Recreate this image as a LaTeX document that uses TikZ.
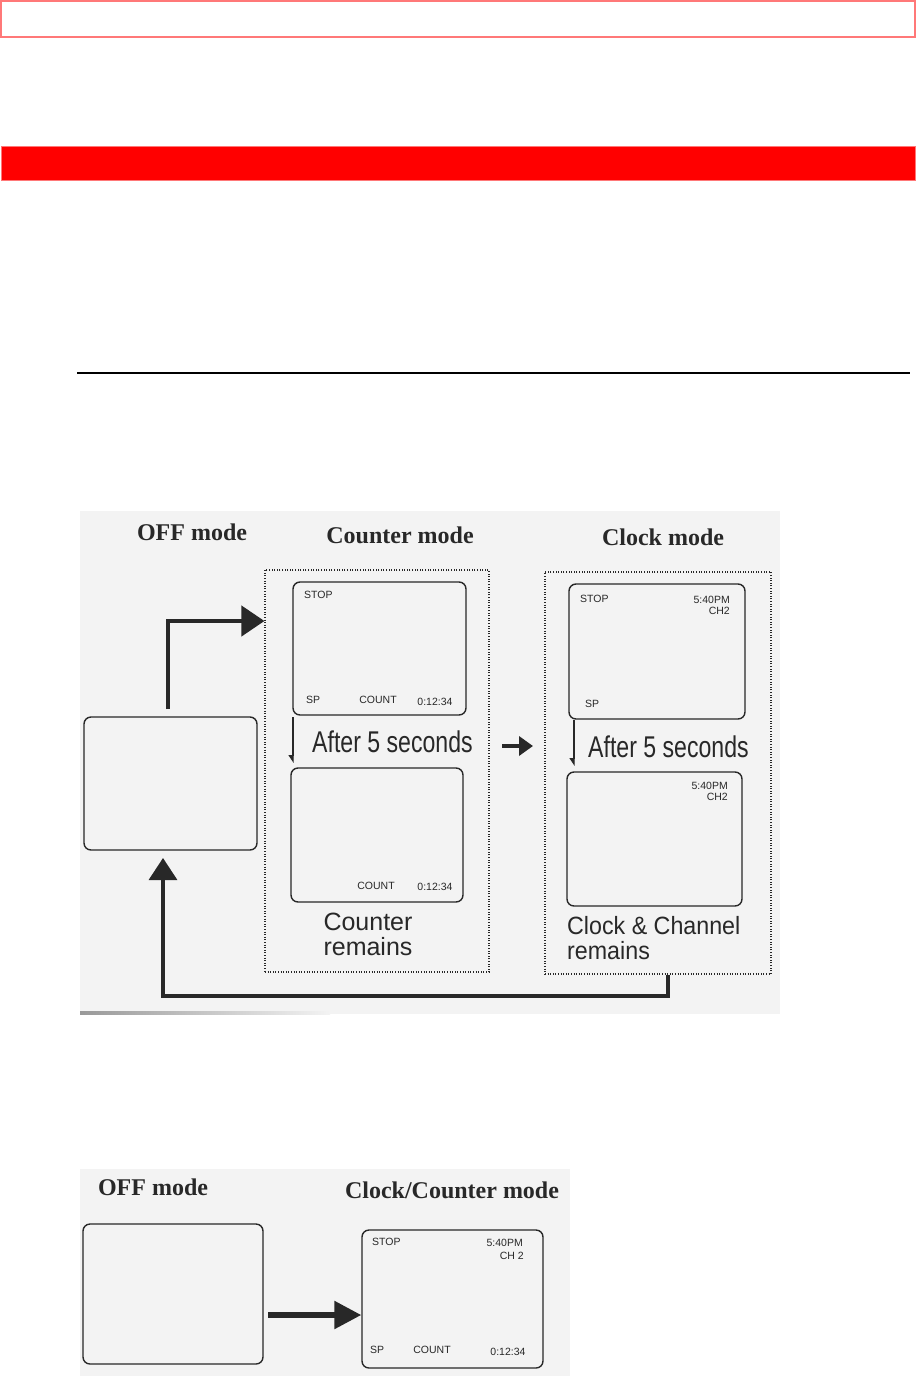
\documentclass[tikz,border=0pt]{standalone}
\usepackage{fontspec}
\setmainfont{Liberation Serif}
\setsansfont{Liberation Sans}
\newfontfamily\narrowsans[FakeStretch=0.77]{Liberation Sans}
\newfontfamily\semisans[FakeStretch=0.93]{Liberation Sans}
\usetikzlibrary{arrows.meta}
\definecolor{pinkline}{RGB}{255,120,120}
\definecolor{barred}{RGB}{255,0,0}
\definecolor{scanbg}{RGB}{243,243,243}
\definecolor{ink}{RGB}{40,40,40}
\tikzset{
  screen/.style={draw=ink, line width=1.4pt, rounded corners=7pt, inner sep=0pt},
  dotbox/.style={draw=ink, line width=1.1pt, dash pattern=on 1pt off 1.6pt, inner sep=0pt},
  tiny/.style={inner sep=0pt, text=ink, font=\sffamily\fontsize{10.5}{11}\selectfont},
  title/.style={inner sep=0pt, text=ink, font=\bfseries\fontsize{24}{28}\selectfont, anchor=base},
  after/.style={inner sep=0pt, text=ink, font=\narrowsans\fontsize{30}{32}\selectfont, anchor=base west},
  remark/.style={inner sep=0pt, text=ink, font=\sffamily\fontsize{25}{25}\selectfont},
  flowarrow/.style={draw=ink, line width=4.2pt, -{Triangle[length=23pt,width=30pt]}},
  smallarrow/.style={draw=ink, line width=1.1pt, -{Triangle[length=7pt,width=9pt,harpoon,swap]}}
}
\begin{document}
\begin{tikzpicture}[x=1pt,y=-1pt]
\useasboundingbox (0,0) rectangle (917,1376);
% page decorations
\draw[pinkline, line width=2pt] (1,1) rectangle (915,37);
\draw[pinkline, line width=1pt, fill=barred] (1,146) rectangle (915,180);
\draw[black, line width=2pt] (77,373) -- (910,373);
% scanned backgrounds
\fill[scanbg] (80,511) rectangle (780,1014);
\shade[left color=gray!80, right color=scanbg] (80,1011.5) rectangle (330,1014);
\fill[scanbg] (80,1169) rectangle (570,1376);

% ---------- upper diagram ----------
\node[title] (toff) at (192,540) {OFF mode};
\node[title] (tcounter) at (400,543) {Counter mode};
\node[title] (tclock) at (663,545) {Clock mode};

\node[screen, minimum width=173pt, minimum height=133pt] (off1) at (170.5,783.5) {};

\node[dotbox, minimum width=224pt, minimum height=402pt] (cdot) at (377,771) {};
\node[dotbox, minimum width=226pt, minimum height=402pt] (kdot) at (658,773) {};

% counter screens
\node[screen, minimum width=173pt, minimum height=133pt] (cs1) at (379.5,648.5) {};
\node[tiny, anchor=west] (cs1stop) at (304,595) {STOP};
\node[tiny, anchor=west] (cs1sp) at (306,700) {SP};
\node[tiny] (cs1count) at (378,700) {COUNT};
\node[tiny] (cs1time) at (435,702) {0:12:34};

\node[screen, minimum width=172pt, minimum height=134pt] (cs2) at (377,835) {};
\node[tiny] (cs2count) at (376,886) {COUNT};
\node[tiny] (cs2time) at (435,887) {0:12:34};

\node[after] (cafter) at (312,752) {After 5 seconds};
\node[remark, align=center, anchor=base] (crem) at (368,955) {Counter\\remains};

% clock screens
\node[screen, minimum width=176pt, minimum height=135pt] (ks1) at (657,651.5) {};
\node[tiny, anchor=west] (ks1stop) at (580,599) {STOP};
\node[tiny, anchor=east] (ks1clock) at (730,600) {5:40PM};
\node[tiny, anchor=east] (ks1ch) at (730,611) {CH2};
\node[tiny, anchor=west] (ks1sp) at (585,704) {SP};

\node[screen, minimum width=175pt, minimum height=134pt] (ks2) at (654.5,839) {};
\node[tiny, anchor=east] (ks2clock) at (728,786) {5:40PM};
\node[tiny, anchor=east] (ks2ch) at (728,797) {CH2};

\node[after] (kafter) at (588,757) {After 5 seconds};
\node[remark, font=\semisans\fontsize{25}{25}\selectfont, align=left, anchor=base west] (krem) at (567,959) {Clock \& Channel\\remains};

% connectors
\coordinate (offup) at (168,709);
\draw[flowarrow] (offup) |- (cdot.west |- 0,621);

\coordinate (cmidA) at (502,746);
\coordinate (cmidB) at (533,746);
\draw[draw=ink, line width=4pt, -{Triangle[length=14pt,width=19pt]}] (cmidA) -- (cmidB);

\coordinate (csA) at (293,717);
\coordinate (csB) at (293,763);
\draw[smallarrow] (csA) -- (csB);
\coordinate (ksA) at (574,720);
\coordinate (ksB) at (574,766);
\draw[smallarrow] (ksA) -- (ksB);

\coordinate (retdown) at (668,996);
\coordinate (retup) at (163,858);
\draw[draw=ink, line width=3.2pt, -{Triangle[length=22pt,width=28pt]}]
  (kdot.south -| retdown) |- (163,996) -- (retup);

% ---------- lower diagram ----------
\node[title] (toff2) at (153,1195) {OFF mode};
\node[title] (tcc) at (452,1198) {Clock/Counter mode};

\node[screen, minimum width=180pt, minimum height=140pt] (off2) at (173,1294) {};
\node[screen, minimum width=181pt, minimum height=138pt] (bs) at (452.5,1299) {};
\node[tiny, anchor=west] (bsstop) at (372,1242) {STOP};
\node[tiny, anchor=east] (bsclock) at (523,1243) {5:40PM};
\node[tiny, anchor=east] (bsch) at (524,1256) {CH 2};
\node[tiny, anchor=west] (bssp) at (370,1350) {SP};
\node[tiny] (bscount) at (432,1350) {COUNT};
\node[tiny] (bstime) at (508,1352) {0:12:34};

\coordinate (barrA) at (268,1315);
\draw[draw=ink, line width=5.5pt, -{Triangle[length=27pt,width=27pt]}] (barrA) -- (bs.west |- barrA);
\end{tikzpicture}
\end{document}
